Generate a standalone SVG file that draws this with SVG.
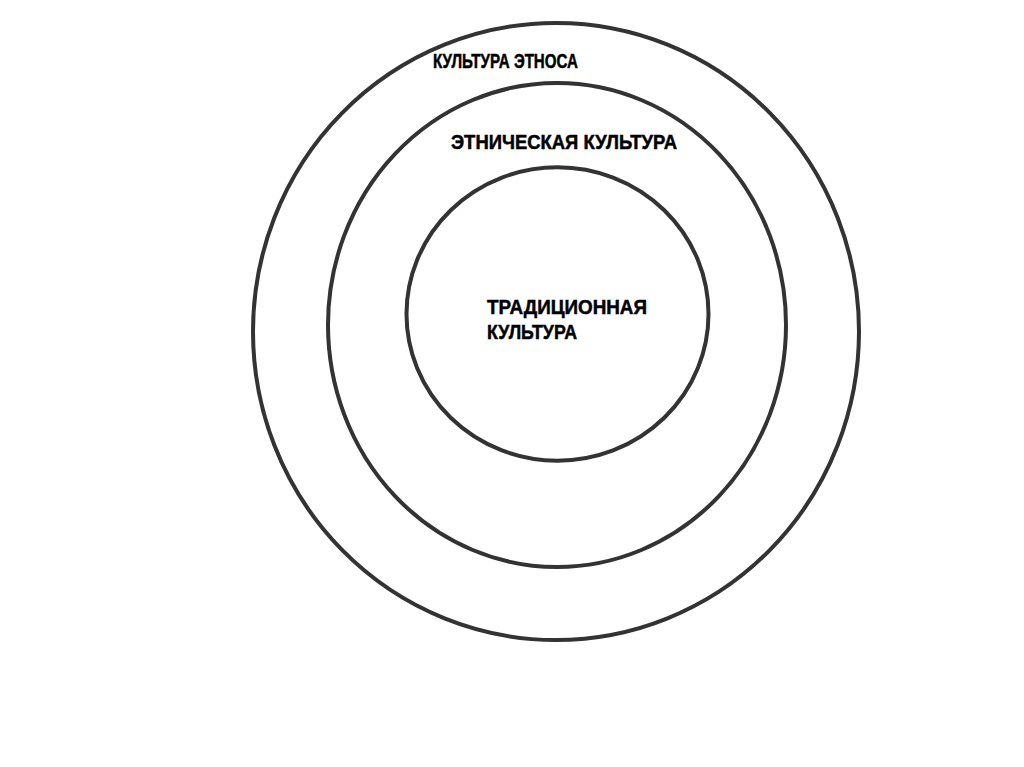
<svg xmlns="http://www.w3.org/2000/svg" width="1024" height="767" viewBox="0 0 1024 767">
<style>
.ring{fill:none;stroke:#333333;stroke-width:4}
.lbl{font-family:"Liberation Sans",Arial,sans-serif;font-weight:bold;font-size:20px;fill:#000000;stroke:#000000;stroke-width:0.5}
</style>
<rect width="1024" height="767" fill="#ffffff"/>
<g id="outer">
<ellipse class="ring" cx="556" cy="331.5" rx="303" ry="308.5"/>
<text class="lbl" x="433" y="68" textLength="145" lengthAdjust="spacingAndGlyphs">КУЛЬТУРА ЭТНОСА</text>
</g>
<g id="middle">
<ellipse class="ring" cx="557" cy="325" rx="229" ry="242"/>
<text class="lbl" x="451" y="149" textLength="226" lengthAdjust="spacingAndGlyphs">ЭТНИЧЕСКАЯ КУЛЬТУРА</text>
</g>
<g id="inner">
<ellipse class="ring" cx="557.5" cy="314" rx="151" ry="146.7"/>
<text class="lbl" x="487" y="314" textLength="160" lengthAdjust="spacingAndGlyphs">ТРАДИЦИОННАЯ</text>
<text class="lbl" x="487" y="339" textLength="90" lengthAdjust="spacingAndGlyphs">КУЛЬТУРА</text>
</g>
<g id="connectors"/>
</svg>
